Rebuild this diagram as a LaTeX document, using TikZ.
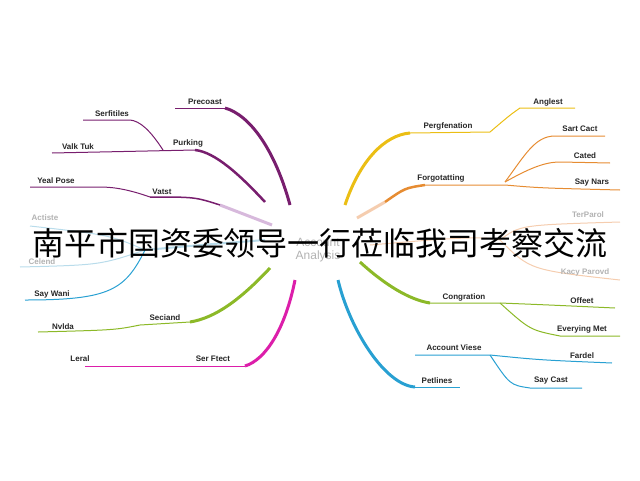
\documentclass[tikz,border=0pt]{standalone}
\usepackage{fontspec}
\setmainfont{Liberation Sans}
\newfontfamily\cjk{Noto Sans CJK SC}
\usepackage{tikz}
\definecolor{mpurple}{RGB}{120,30,110}
\definecolor{mlilac}{RGB}{215,185,220}
\definecolor{mblue}{RGB}{40,160,210}
\definecolor{mpale}{RGB}{185,220,235}
\definecolor{mgreen}{RGB}{140,185,40}
\definecolor{mmagenta}{RGB}{220,30,170}
\definecolor{myellow}{RGB}{235,190,20}
\definecolor{morange}{RGB}{230,140,50}
\definecolor{mpeach}{RGB}{245,205,175}
\tikzset{
  lbl/.style={font=\bfseries\fontsize{8}{9}\selectfont, text=black!85, inner sep=1pt},
  faded/.style={lbl, text=black!30},
  twig/.style={line width=1pt},
}
\begin{document}
\begin{tikzpicture}[x=1pt, y=-1pt]
    \useasboundingbox (0,0) rectangle (640,480);

    % Left: purple branches
    \draw[mpurple, line width=3pt] (290,205) .. controls (275,150) and (250,115) .. (225,108);
    \draw[mpurple, twig] (225,108) -- (175,108);
    \node[lbl] (precoast) at (205,102) {Precoast};
    \draw[mpurple, line width=2.5pt] (265,202) .. controls (240,175) and (215,152) .. (195,150);
    \draw[mpurple, twig] (195,150) -- (52,153);
    \draw[mpurple, twig] (163,150) .. controls (150,130) and (140,121) .. (130,120) -- (83,120);
    \node[lbl] (purking) at (188,143) {Purking};
    \node[lbl] (serfitiles) at (112,114) {Serfitiles};
    \node[lbl] (valktuk) at (78,147) {Valk Tuk};
    \draw[mlilac, line width=3pt] (272,225) -- (220,205);
    \draw[mpurple, line width=1.5pt] (220,205) .. controls (195,197) .. (150,197);
    \draw[mpurple, twig] (150,197) .. controls (130,190) and (115,187) .. (100,187) -- (30,187);
    \node[lbl] (vatst) at (162,192) {Vatst};
    \node[lbl] (yealpose) at (56,181) {Yeal Pose};

    % Left: blue branches
    \draw[mpale, line width=2pt] (265,240) .. controls (200,245) .. (145,250);
    \draw[mpale, twig] (145,250) .. controls (110,235) .. (30,226);
    \draw[mpale, twig] (145,250) .. controls (100,265) .. (20,267);
    \draw[mblue, twig] (145,250) .. controls (125,290) and (110,300) .. (25,300);
    \node[faded] (actiste) at (45,218) {Actiste};
    \node[faded] (celend) at (42,262) {Celend};
    \node[lbl] (saywani) at (52,294) {Say Wani};

    % Left: green branch
    \draw[mgreen, line width=3pt] (270,268) .. controls (240,300) and (215,318) .. (190,322);
    \draw[mgreen, twig] (190,322) -- (140,325) .. controls (115,330) .. (38,332);
    \node[lbl] (seciand) at (165,318) {Seciand};
    \node[lbl] (nvlda) at (63,327) {Nvlda};

    % Left: magenta branch
    \draw[mmagenta, line width=3pt] (295,280) .. controls (285,330) and (265,360) .. (245,366);
    \draw[mmagenta, twig] (245,366) -- (85,366);
    \node[lbl] (serftect) at (213,359) {Ser Ftect};
    \node[lbl] (leral) at (80,359) {Leral};

    % Right: yellow branch
    \draw[myellow, line width=3pt] (345,205) .. controls (360,160) and (385,135) .. (410,133);
    \draw[myellow, twig] (410,133) -- (490,132) .. controls (510,115) .. (520,108) -- (575,108);
    \node[lbl] (pergfenation) at (448,126) {Pergfenation};
    \node[lbl] (anglest) at (548,102) {Anglest};

    % Right: orange branch
    \draw[mpeach, line width=3pt] (357,218) -- (385,202);
    \draw[morange, line width=2.5pt] (385,202) .. controls (405,188) .. (425,185);
    \draw[morange, twig] (425,185) -- (505,185) .. controls (540,188) .. (620,190);
    \draw[morange, twig] (505,182) .. controls (525,155) and (535,136) .. (555,136) -- (605,136);
    \draw[morange, twig] (505,182) .. controls (530,168) and (545,162) .. (560,162) -- (610,163);
    \node[lbl] (forgotatting) at (441,178) {Forgotatting};
    \node[lbl] (sartcact) at (580,129) {Sart Cact};
    \node[lbl] (cated) at (585,156) {Cated};
    \node[lbl] (saynars) at (592,183) {Say Nars};
    \draw[mpeach, twig] (370,245) .. controls (430,240) and (480,235) .. (500,240);
    \draw[mpeach, twig] (500,240) .. controls (520,225) .. (620,222);
    \draw[mpeach, twig] (500,240) .. controls (530,270) .. (620,280);
    \node[faded] (terparol) at (588,215) {TerParol};
    \node[faded] (kacyparovd) at (585,272) {Kacy Parovd};

    % Right: green branch
    \draw[mgreen, line width=3pt] (360,262) .. controls (385,285) and (410,300) .. (430,303);
    \draw[mgreen, twig] (430,303) -- (500,303) .. controls (550,305) .. (615,308);
    \draw[mgreen, twig] (500,303) .. controls (530,330) .. (560,336) -- (620,336);
    \node[lbl] (congration) at (464,297) {Congration};
    \node[lbl] (offeet) at (582,301) {Offeet};
    \node[lbl] (everyingmet) at (582,329) {Everying Met};

    % Right: blue branch
    \draw[mblue, line width=3pt] (338,280) .. controls (350,330) and (385,385) .. (415,387);
    \draw[mblue, twig] (415,387) -- (460,387);
    \draw[mblue, twig] (415,355) -- (490,355) .. controls (540,360) .. (612,363);
    \draw[mblue, twig] (490,355) .. controls (510,385) .. (530,388) -- (582,388);
    \node[lbl] (petlines) at (437,381) {Petlines};
    \node[lbl] (accountviese) at (454,348) {Account Viese};
    \node[lbl] (fardel) at (582,356) {Fardel};
    \node[lbl] (saycast) at (551,381) {Say Cast};

    % Centre and caption
    \node[faded, font=\fontsize{12}{13}\selectfont, align=center] (centre) at (318,250) {Account\\Analysis};
    \node[font=\cjk\fontsize{32}{34}\selectfont, inner sep=0pt] (caption) at (320,243)
        {南平市国资委领导一行莅临我司考察交流};
\end{tikzpicture}
\end{document}
